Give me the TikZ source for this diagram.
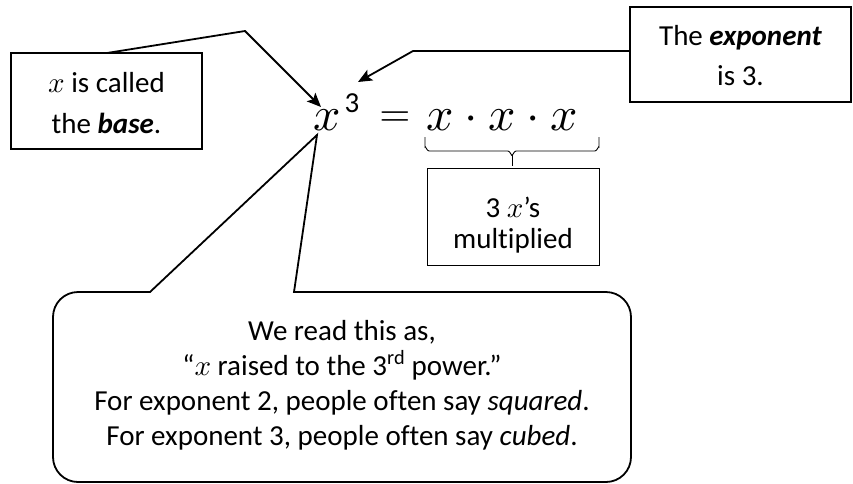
\documentclass[tikz,border=0pt]{standalone}
\usepackage{fontspec}
\setmainfont{Carlito}[Ligatures=NoCommon]
\DeclareFontShape{OML}{cmm}{m}{it}{<->cmmi10}{}
\DeclareFontShape{OMS}{cmsy}{m}{n}{<->cmsy10}{}
\DeclareFontShape{OT1}{cmr}{m}{n}{<->cmr10}{}
\usetikzlibrary{arrows.meta}
\begin{document}
\begin{tikzpicture}[x=1pt,y=-1pt,
  heavy/.style={line width=1.8pt},
  frame/.style={draw, line width=1.8pt, inner sep=0pt},
  thinframe/.style={draw, line width=0.9pt, inner sep=0pt},
  txt/.style={inner sep=0pt, anchor=base, font=\fontsize{29}{35}\selectfont},
  eqn/.style={inner sep=0pt, anchor=base, font=\fontsize{48}{48}\selectfont},
  pointer/.style={line width=1.8pt, line join=miter, -{Stealth[length=14pt,width=12pt,inset=3pt]}},
]
\useasboundingbox (0,0) rectangle (853,483);

% equation
\node[eqn] (base) at (327,130) {$x$};
\node[inner sep=0pt, anchor=base, font=\fontsize{29}{29}\selectfont] (expo) at (352,112) {3};
\node[inner sep=0pt, anchor=base, font=\fontsize{40}{40}\selectfont] (equals) at (395,126) {$=$};
\node[eqn] (prod) at (502,130) {$x\cdot x\cdot x$};

% brace
\draw[line width=0.9pt] (425,137) -- (425,147) to[out=90,in=180] (429,151) -- (508,151)
  to[out=0,in=-90] (512,155) to[out=-90,in=180] (516,151) -- (595,151)
  to[out=0,in=90] (599,147) -- (599,137);
\draw[line width=0.9pt] (512,155) -- (512,166);

% left box
\node[frame, minimum width=191pt, minimum height=96pt] (lbox) at (106.5,101) {};
\node[txt] (l1) at (106.5,92) {$x$ is called};
\node[txt] (l2) at (106.5,133) {the \textbf{\textit{base}}.};

% right box
\node[frame, minimum width=221pt, minimum height=95pt] (rbox) at (740.5,54.5) {};
\node[txt] (r1) at (740.5,45) {The \textbf{\textit{exponent}}};
\node[txt] (r2) at (740.5,85) {is 3.};

% multiplied box
\node[thinframe, minimum width=172pt, minimum height=97pt] (mbox) at (513,216.5) {};
\node[txt] (m1) at (513,217) {3 $x$’s};
\node[txt] (m2) at (513,248) {multiplied};

% pointers
\coordinate (lstart) at (107,53);
\coordinate (lbend) at (245,31);
\coordinate (ltip) at (321,107);
\draw[pointer] (lstart) -- (lbend) -- (ltip);

\coordinate (rstart) at (630,51);
\coordinate (rbend) at (413,51);
\coordinate (rtip) at (358,82);
\draw[pointer] (rstart) -- (rbend) -- (rtip);

% speech callout
\coordinate (ctip) at (317,135);
\draw[heavy, line join=miter] (294,292) -- (606,292) arc[start angle=-90, end angle=0, radius=25]
  -- (631,457) arc[start angle=0, end angle=90, radius=25]
  -- (78,482) arc[start angle=90, end angle=180, radius=25]
  -- (53,317) arc[start angle=180, end angle=270, radius=25]
  -- (150,292) -- (ctip) -- cycle;

\node[txt] (c1) at (342,340) {We read this as,};
\node[txt] (c2) at (342,375) {“$x$ raised to the 3\textsuperscript{rd} power.”};
\node[txt] (c3) at (342,410) {For exponent 2, people often say \textit{squared}.};
\node[txt] (c4) at (342,445) {For exponent 3, people often say \textit{cubed}.};
\end{tikzpicture}
\end{document}
